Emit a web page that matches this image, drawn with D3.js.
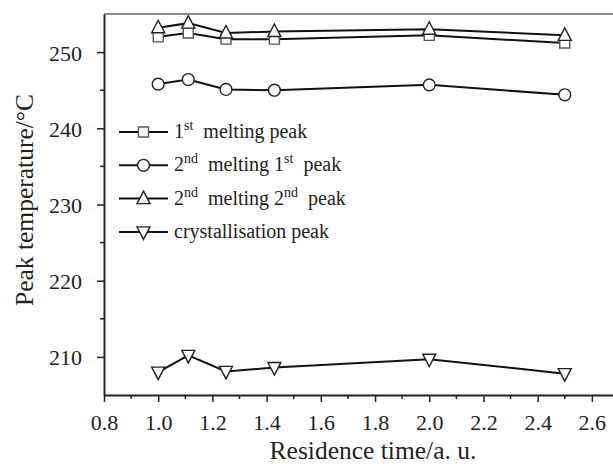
<!DOCTYPE html>
<html>
<head>
<meta charset="utf-8">
<script src="https://cdn.jsdelivr.net/npm/d3@7"></script>
<style>
  body { margin: 0; background: #fff; }
  svg text { font-family: "Liberation Serif", "Times New Roman", serif; fill: #222; }
</style>
</head>
<body>
<div id="chart"></div>
<script>
// residence time (a. u.)
var times = [1.0, 1.111, 1.25, 1.4286, 2.0, 2.5];
var firstMelt = [252.0, 252.5, 251.7, 251.7, 252.2, 251.2];
var secondMelt1 = [245.8, 246.4, 245.1, 245.0, 245.7, 244.4];
var secondMelt2 = [253.2, 253.8, 252.5, 252.7, 253.0, 252.2];
var cryst = [208.0, 210.2, 208.1, 208.6, 209.7, 207.8];

var xTicks = [0.8, 1.0, 1.2, 1.4, 1.6, 1.8, 2.0, 2.2, 2.4, 2.6];
var yTicks = [210, 220, 230, 240, 250];

var series = [
  {name: [["1", ""], ["st", "sup"], ["  melting peak", ""]], values: firstMelt, marker: "square"},
  {name: [["2", ""], ["nd", "sup"], ["  melting 1", ""], ["st", "sup"], ["  peak", ""]], values: secondMelt1, marker: "circle"},
  {name: [["2", ""], ["nd", "sup"], ["  melting 2", ""], ["nd", "sup"], ["  peak", ""]], values: secondMelt2, marker: "up"},
  {name: [["crystallisation peak", ""]], values: cryst, marker: "down"}
];

function init() {
  var w = 613, h = 464;
  var left = 104, top = 14, bottom = 395;

  var svg = d3.select("#chart").append("svg")
    .attr("width", w).attr("height", h);

  var x = d3.scaleLinear().domain([0.8, 2.678]).range([left, w]);
  var y = d3.scaleLinear().domain([205, 255]).range([bottom, top]);

  // top frame line
  svg.append("line")
    .attr("x1", left).attr("x2", w)
    .attr("y1", top).attr("y2", top)
    .attr("stroke", "#666").attr("stroke-width", 1.5);

  // minor ticks
  var xMinor = d3.range(0.9, 2.65, 0.2);
  var yMinor = [215, 225, 235, 245];

  var xAxis = d3.axisBottom(x).tickValues(xTicks).tickFormat(d3.format(".1f"))
    .tickSizeInner(7).tickSizeOuter(0);
  var yAxis = d3.axisLeft(y).tickValues(yTicks).tickFormat(d3.format("d"))
    .tickSizeInner(7).tickSizeOuter(0);

  var gx = svg.append("g").attr("transform", "translate(0," + bottom + ")").call(xAxis);
  var gy = svg.append("g").attr("transform", "translate(" + left + ",0)").call(yAxis);

  gx.selectAll(".minor").data(xMinor).enter().append("line")
    .attr("x1", function(d) { return x(d); }).attr("x2", function(d) { return x(d); })
    .attr("y1", 0).attr("y2", 4).attr("stroke", "#222").attr("stroke-width", 1.5);
  gy.selectAll(".minor").data(yMinor).enter().append("line")
    .attr("y1", function(d) { return y(d); }).attr("y2", function(d) { return y(d); })
    .attr("x1", 0).attr("x2", -4).attr("stroke", "#222").attr("stroke-width", 1.5);

  [gx, gy].forEach(function(g) {
    g.attr("font-family", null).attr("font-size", null);
    g.select(".domain").attr("stroke", "#222").attr("stroke-width", 2);
    g.selectAll(".tick line").attr("stroke", "#222").attr("stroke-width", 1.5);
    g.selectAll(".tick text").style("font-size", "22px").attr("fill", "#222");
  });
  gx.selectAll(".tick text").attr("y", 35).attr("dy", null);
  gy.selectAll(".tick text").attr("x", -22).attr("dy", "0.36em");

  // axis titles
  svg.append("text")
    .attr("x", 373).attr("y", 459)
    .attr("text-anchor", "middle").style("font-size", "25.5px")
    .text("Residence time/a. u.");
  svg.append("text")
    .attr("transform", "translate(33,200) rotate(-90)")
    .attr("text-anchor", "middle").style("font-size", "25.5px")
    .text("Peak temperature/°C");

  function markerPath(type) {
    if (type === "square") return "M-5,-5H5V5H-5Z";
    if (type === "up") return "M0,-7.5L6.5,5L-6.5,5Z";
    if (type === "down") return "M0,7.5L6.5,-5L-6.5,-5Z";
    return d3.symbol(d3.symbolCircle, 110)();
  }

  var line = d3.line()
    .x(function(d, i) { return x(times[i]); })
    .y(function(d) { return y(d); });

  series.forEach(function(s) {
    svg.append("path")
      .attr("d", line(s.values))
      .attr("fill", "none").attr("stroke", "#111").attr("stroke-width", 2);

    svg.selectAll(null).data(s.values).enter().append("path")
      .attr("d", markerPath(s.marker))
      .attr("transform", function(d, i) { return "translate(" + x(times[i]) + "," + y(d) + ")"; })
      .attr("fill", "#fff")
      .attr("stroke", s.marker === "square" ? "#555" : "#222")
      .attr("stroke-width", 1.4);
  });

  // legend
  var legend = svg.append("g").attr("transform", "translate(119,132)");
  series.forEach(function(s, i) {
    var g = legend.append("g").attr("transform", "translate(0," + (i * 33.3) + ")");
    g.append("line").attr("x1", 0).attr("x2", 49).attr("y1", 0).attr("y2", 0)
      .attr("stroke", "#111").attr("stroke-width", 2);
    g.append("path").attr("d", markerPath(s.marker))
      .attr("transform", "translate(24.5,0)")
      .attr("fill", "#fff").attr("stroke", s.marker === "square" ? "#555" : "#222").attr("stroke-width", 1.4);
    var t = g.append("text").attr("x", 55).attr("y", 6).style("font-size", "20px")
      .attr("xml:space", "preserve").style("white-space", "pre");
    s.name.forEach(function(part) {
      if (part[1] === "sup") {
        t.append("tspan").attr("dy", -8).style("font-size", "14px").text(part[0]);
      } else {
        var sp = t.append("tspan").text(part[0]);
        if (t.selectAll("tspan").size() > 1) sp.attr("dy", 8);
      }
    });
  });
}
window.onload = init;
</script>
</body>
</html>
